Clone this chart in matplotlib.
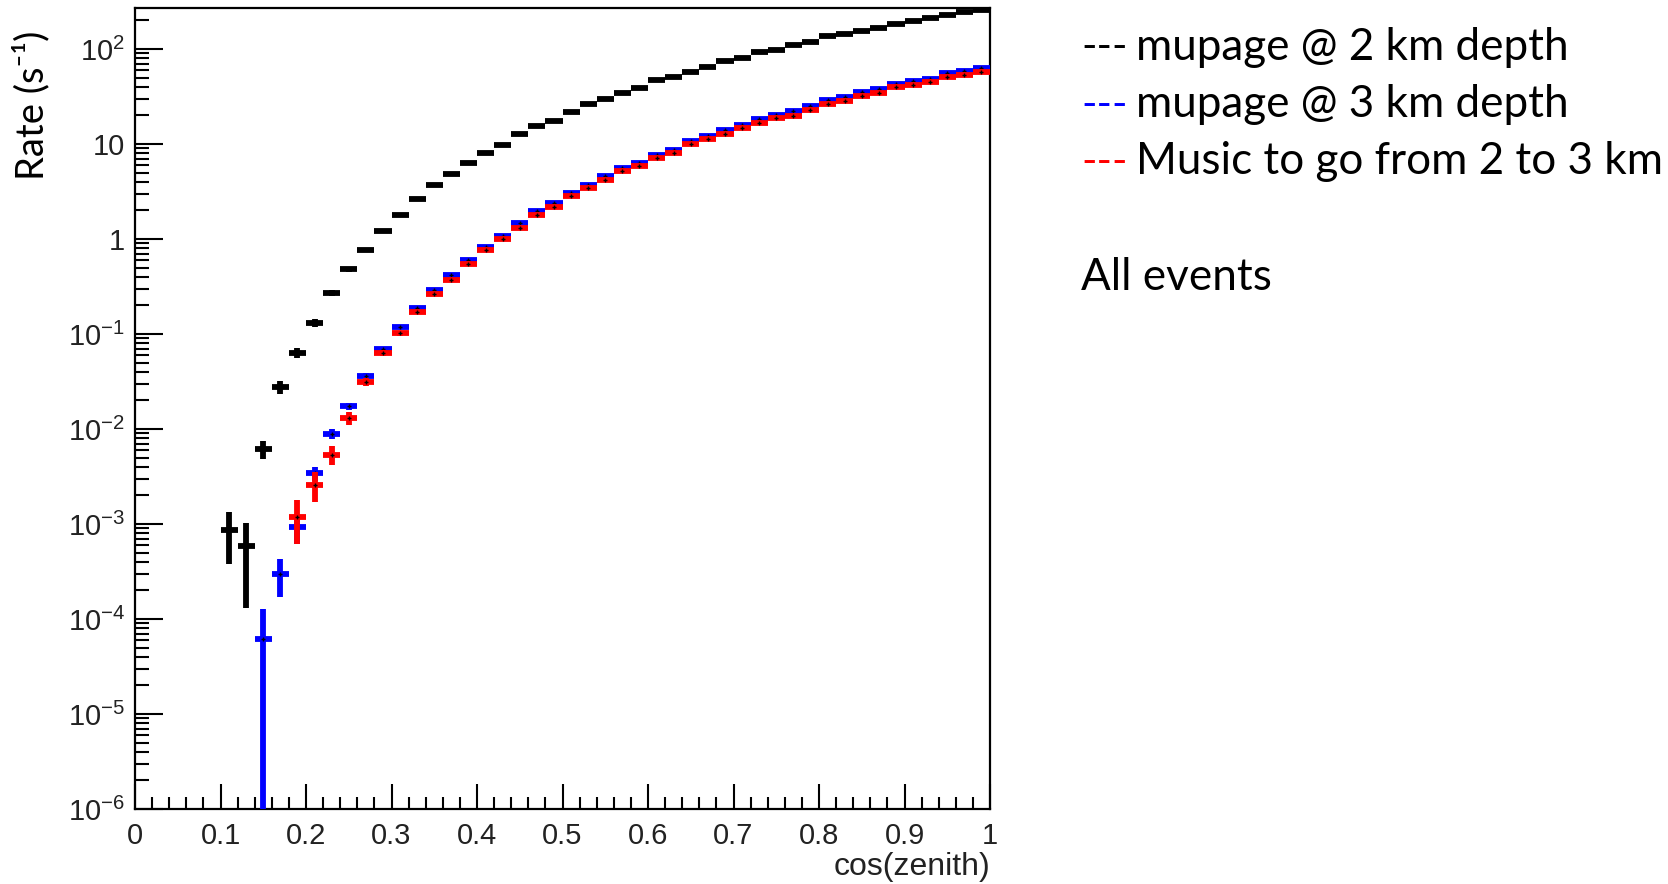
"""Muon rate vs cos(zenith) for the two mupage depths and the MUSIC propagation"""
import numpy as np
import matplotlib
matplotlib.use("Agg")
import matplotlib.pyplot as plt
from matplotlib.ticker import LogLocator, MultipleLocator, FuncFormatter, NullFormatter

plt.rcParams["font.family"] = ["Liberation Sans", "DejaVu Sans"]
plt.rcParams["mathtext.fontset"] = "custom"
plt.rcParams["mathtext.rm"] = "Liberation Sans"
plt.rcParams["mathtext.it"] = "Liberation Sans:italic"
plt.rcParams["mathtext.bf"] = "Liberation Sans:bold"

# 50 bins in cos(zenith), width 0.02
n_bins = 50
bin_width = 0.02
centres = np.linspace(0, 1, n_bins + 1)[:-1] + bin_width / 2

# mupage @ 2 km, first filled bin 0.10-0.12
first_2km = 5
rate_2km = [8.6e-4, 5.8e-4, 6.1e-3, 2.76e-2, 6.35e-2,
            0.131, 0.269, 0.478, 0.77, 1.21,
            1.80, 2.64, 3.67, 4.80, 6.26,
            8.05, 9.78, 12.8, 15.6, 17.6,
            21.5, 26.4, 29.8, 34.1, 38.5,
            47.2, 50.3, 57.7, 65.4, 75.3,
            80.4, 92.0, 97.5, 111, 119,
            136, 144, 153, 165, 183,
            198, 212, 228, 247, 255]
err_2km = [4.8e-4, 4.5e-4, 1.3e-3, 4.5e-3, 8.0e-3,
           1.3e-2, 2.0e-2, 3.0e-2, 4.0e-2, 5.0e-2,
           6.0e-2, 7.5e-2, 8.5e-2, 0.10, 0.11,
           0.12, 0.13, 0.15, 0.16, 0.17,
           0.19, 0.21, 0.22, 0.24, 0.25,
           0.28, 0.29, 0.31, 0.33, 0.35,
           0.36, 0.39, 0.40, 0.43, 0.44,
           0.47, 0.48, 0.50, 0.52, 0.55,
           0.57, 0.59, 0.61, 0.64, 0.65]

# mupage @ 3 km, first filled bin 0.14-0.16
first_3km = 7
rate_3km = [6.2e-5, 3.0e-4, 9.2e-4, 3.42e-3, 8.9e-3,
            1.73e-2, 3.6e-2, 7.0e-2, 0.118, 0.189,
            0.292, 0.413, 0.594, 0.818, 1.08,
            1.48, 1.96, 2.38, 3.03, 3.74,
            4.57, 5.55, 6.26, 7.67, 8.72,
            10.8, 12.2, 14.1, 15.9, 18.3,
            20.4, 22.4, 25.1, 28.8, 31.0,
            35.2, 37.6, 42.8, 45.6, 48.3,
            55.4, 59.2, 62.5]
err_3km = [6.4e-5, 1.3e-4, 3.0e-4, 6.0e-4, 1.0e-3,
           1.5e-3, 2.4e-3, 3.6e-3, 5.0e-3, 6.5e-3,
           8.5e-3, 1.0e-2, 1.3e-2, 1.5e-2, 1.8e-2,
           2.2e-2, 2.6e-2, 2.9e-2, 3.3e-2, 3.7e-2,
           4.1e-2, 4.5e-2, 4.8e-2, 5.3e-2, 5.7e-2,
           6.3e-2, 6.7e-2, 7.2e-2, 7.6e-2, 8.2e-2,
           8.6e-2, 9.0e-2, 9.5e-2, 0.10, 0.105,
           0.11, 0.115, 0.12, 0.125, 0.13,
           0.14, 0.145, 0.15]

# MUSIC propagation 2 -> 3 km, first filled bin 0.18-0.20
first_music = 9
rate_music = [1.19e-3, 2.6e-3, 5.37e-3, 1.31e-2, 3.12e-2,
              6.35e-2, 0.102, 0.169, 0.265, 0.372,
              0.548, 0.77, 1.00, 1.29, 1.80,
              2.16, 2.82, 3.45, 4.19, 5.16,
              5.88, 7.06, 8.11, 9.93, 11.3,
              12.8, 14.8, 16.5, 18.8, 19.9,
              22.8, 26.4, 28.1, 32.3, 34.1,
              39.4, 41.8, 44.6, 50.2, 53.7,
              57.7]
err_music = [5.8e-4, 9.0e-4, 1.2e-3, 2.0e-3, 3.0e-3,
             4.5e-3, 6.0e-3, 7.5e-3, 9.5e-3, 1.1e-2,
             1.4e-2, 1.6e-2, 1.9e-2, 2.2e-2, 2.6e-2,
             2.9e-2, 3.3e-2, 3.7e-2, 4.1e-2, 4.5e-2,
             4.8e-2, 5.3e-2, 5.7e-2, 6.3e-2, 6.7e-2,
             7.1e-2, 7.6e-2, 8.0e-2, 8.5e-2, 8.8e-2,
             9.4e-2, 0.10, 0.104, 0.11, 0.114,
             0.12, 0.125, 0.13, 0.137, 0.14,
             0.147]

legend_labels = ["mupage @ 2 km depth", "mupage @ 3 km depth",
                 "Music to go from 2 to 3 km"]
legend_colours = ["black", "#0000ff", "#ff0000"]

W, H = 1668, 884
fig = plt.figure(figsize=(W / 100, H / 100), dpi=100)
ax = fig.add_axes([135 / W, 1 - 809 / H, 855 / W, 801 / H])


def draw_hist(vals, errs, first, colour, z, dots=True):
    """one histogram drawn ROOT style: x error = bin width, y error bars"""
    x = centres[first:first + len(vals)]
    ax.errorbar(x, vals, xerr=bin_width / 2, yerr=errs, fmt="none",
                ecolor=colour, elinewidth=4.2, capsize=0, zorder=z)
    if dots:
        ax.plot(x, vals, "+", color="black", ms=3, mew=1, zorder=z + 0.5)


ax.set_yscale("log", nonpositive="clip")
draw_hist(rate_2km, err_2km, first_2km, legend_colours[0], 2, dots=False)
draw_hist(rate_3km, err_3km, first_3km, legend_colours[1], 3)
draw_hist(rate_music, err_music, first_music, legend_colours[2], 4)

ax.set_xlim(0, 1)
ax.set_ylim(1e-6, 270)


def log_label(v, pos):
    e = int(round(np.log10(v)))
    if e == 0:
        return "1"
    if e == 1:
        return "10"
    return r"$10^{%d}$" % e


ax.yaxis.set_major_locator(LogLocator(base=10, numticks=20))
ax.yaxis.set_minor_locator(LogLocator(base=10, subs=np.arange(2, 10), numticks=20))
ax.yaxis.set_major_formatter(FuncFormatter(log_label))
ax.yaxis.set_minor_formatter(NullFormatter())
ax.xaxis.set_major_locator(MultipleLocator(0.1))
ax.xaxis.set_minor_locator(MultipleLocator(0.02))
ax.xaxis.set_major_formatter(FuncFormatter(lambda v, p: "%g" % round(v, 2)))

ax.tick_params(which="both", direction="in", top=False, right=False,
               width=1.5, color="black", labelcolor="#222222", labelsize=21)
ax.tick_params(axis="y", which="major", length=20, pad=7)
ax.tick_params(axis="y", which="minor", length=10)
ax.tick_params(axis="x", which="major", length=18, pad=9)
ax.tick_params(axis="x", which="minor", length=9)
for s in ax.spines.values():
    s.set_linewidth(1.6)

fig.text(990 / W, 1 - 867 / H, "cos(zenith)", ha="right", va="center",
         fontsize=23, color="#222222")

# slide text around the plot
slide_font = ["Lato", "DejaVu Sans"]
fig.text(31 / W, 1 - 105 / H, "Rate (s\u207b\u00b9)", rotation=90,
         ha="center", va="center", fontsize=27.5, family=slide_font)
for i, (lab, col) in enumerate(zip(legend_labels, legend_colours)):
    y = 1 - (47 + 57.5 * i) / H
    fig.text(1081 / W, y, "---", color=col, ha="left", va="center",
             fontsize=30, family=slide_font)
    fig.text(1136 / W, y, lab, color="black", ha="left", va="center",
             fontsize=31.7, family=slide_font)
fig.text(1081 / W, 1 - 277 / H, "All events", ha="left", va="center",
         fontsize=31.7, family=slide_font)

fig.savefig("out.png", dpi=100)
